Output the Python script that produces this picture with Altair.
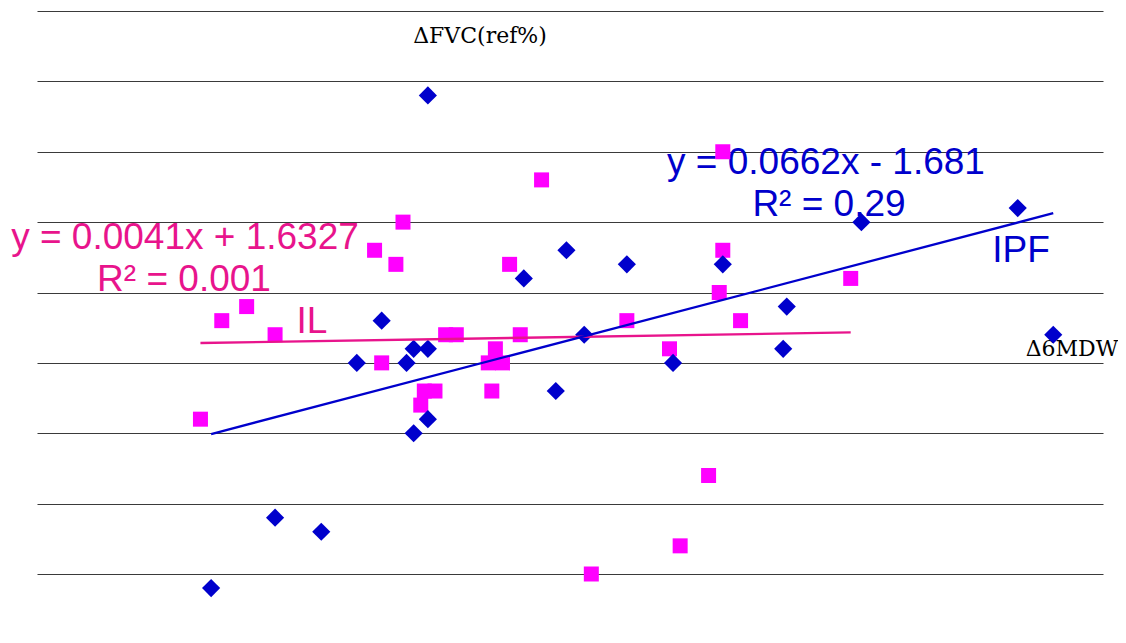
import altair as alt
import pandas as pd

# IPF series (blue diamonds): change in 6MWD vs change in FVC (% ref)
ipf_x = [10, -51, -33, -20, -10, -3, 4, 6, 10, 6, 10, 37, 49, 46, 54, 66, 79, 93, 110, 111, 132, 176, 186]
ipf_y = [19, -16, -11, -12, 0, 3, 0, 1, 1, -5, -4, 6, 8, -2, 2, 7, 0, 7, 1, 4, 10, 11, 2]

# IL series (magenta squares)
il_x = [-54, -48, -41, -33, -5, 3, 1, -3, 8, 9, 12, 15, 18, 27, 29, 28, 31, 33, 36,
        42, 56, 66, 78, 81, 89, 92, 93, 93, 98, 129]
il_y = [-4, 3, 4, 2, 8, 10, 7, 0, -3, -2, -2, 2, 2, 0, 1, -2, 0, 7, 2,
        13, -15, 3, 1, -13, -8, 5, 8, 15, 3, 6]

# Linear trendline coefficients (slope, intercept) as printed on the chart
ipf_fit = [0.0662, -1.681]
il_fit = [0.0041, 1.6327]

ipf_eq = ["y = 0.0662x - 1.681", "R² = 0.29"]
il_eq = ["y = 0.0041x + 1.6327", "R² = 0.001"]

x_domain = [-100, 200]
y_domain = [-15, 25]
y_grid = [-15, -10, -5, 0, 5, 10, 15, 20, 25]

BLUE = "#0000CC"
MAGENTA = "#FF00FF"
PINK = "#E8148C"

ipf_df = pd.DataFrame({"x": ipf_x, "y": ipf_y})
il_df = pd.DataFrame({"x": il_x, "y": il_y})


def fit_line(xs, coef):
    lo, hi = min(xs), max(xs)
    return pd.DataFrame({"x": [lo, hi], "y": [coef[0] * lo + coef[1], coef[0] * hi + coef[1]]})


ipf_line = fit_line(ipf_x, ipf_fit)
il_line = fit_line(il_x, il_fit)

X = alt.X("x:Q", scale=alt.Scale(domain=x_domain, nice=False, zero=False), axis=None)
Y = alt.Y(
    "y:Q",
    scale=alt.Scale(domain=y_domain, nice=False, zero=False),
    axis=alt.Axis(values=y_grid, labels=False, ticks=False, domain=False, grid=True,
                  gridColor="#3a3a3a", gridWidth=1.2, title=None),
)

grid = alt.Chart(ipf_df).mark_point(opacity=0).encode(x=X, y=Y)

one = alt.Data(values=[{}])


def label(text, x, y, color, size, font="Liberation Sans"):
    return alt.Chart(one).mark_text(
        text=text, font=font, fontSize=size, color=color, align="center", baseline="alphabetic"
    ).encode(x=alt.value(x), y=alt.value(y))


texts = [
    label(il_eq[0], 148, 238, PINK, 37),
    label(il_eq[1], 147, 280, PINK, 37),
    label(ipf_eq[0], 789, 163, BLUE, 37),
    label(ipf_eq[1], 792, 205, BLUE, 37),
    label("IPF", 984, 251, BLUE, 37),
    label("IL", 275, 322, PINK, 37),
    label("ΔFVC(ref%)", 443, 32, "#000000", 22, font="DejaVu Serif"),
    label("Δ6MDW", 1035, 345, "#000000", 22, font="DejaVu Serif"),
]

squares = alt.Chart(il_df).mark_point(shape="square", filled=True, size=225, color=MAGENTA, opacity=1).encode(x=X, y=Y)
diamonds = alt.Chart(ipf_df).mark_point(shape="diamond", filled=True, size=330, color=BLUE, opacity=1).encode(x=X, y=Y)

il_trend = alt.Chart(il_line).mark_line(color=PINK, strokeWidth=2.3).encode(x=X, y=Y)
ipf_trend = alt.Chart(ipf_line).mark_line(color=BLUE, strokeWidth=2.3).encode(x=X, y=Y)

chart = alt.layer(grid, *texts, squares, diamonds, il_trend, ipf_trend).properties(
    width=1066,
    height=563,
    padding={"left": 29, "top": 3, "right": 15, "bottom": 40},
    autosize=alt.AutoSizeParams(type="none"),
).configure_view(stroke=None)

chart.save("out.html", embed_options={"renderer": "svg", "actions": False})
